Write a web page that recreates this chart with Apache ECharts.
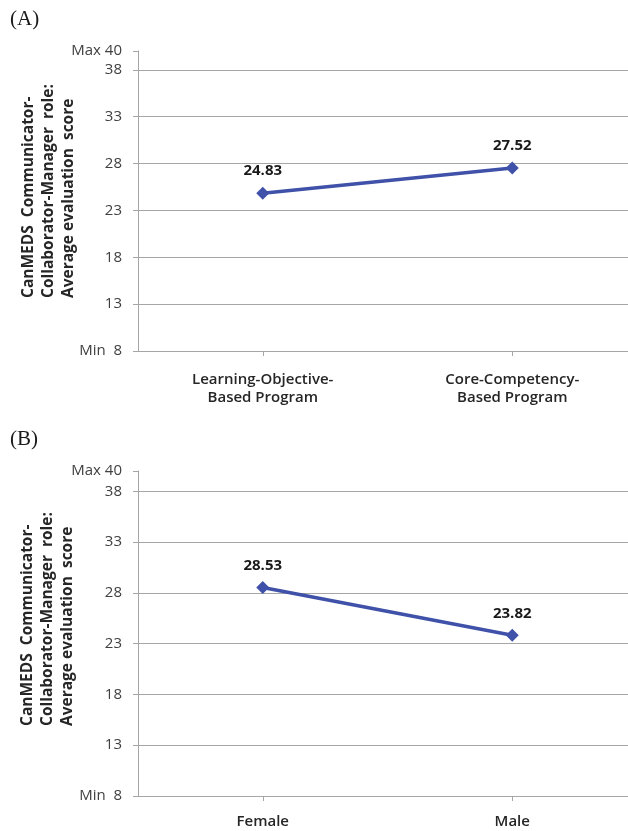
<!DOCTYPE html>
<html><head><meta charset="utf-8">
<script src="https://cdn.jsdelivr.net/npm/echarts@6/dist/echarts.min.js"></script>
<style>html,body{margin:0;padding:0;background:#fff;overflow:hidden;width:628px;height:831px}#c{width:637px;height:831px}</style>
</head><body><div id="c"></div>
<script>
const catsA = ['Learning-Objective-\nBased Program', 'Core-Competency-\nBased Program'];
const valsA = [24.83, 27.52];
const catsB = ['Female', 'Male'];
const valsB = [28.53, 23.82];
const yName = 'CanMEDS  Communicator-\nCollaborator-Manager  role:\nAverage evaluation  score';
const yMin = 8, yMax = 40, yStep = 5;

const FONT = 'Open Sans';
const chart = echarts.init(document.getElementById('c'));
const lineColor = '#3f51a8';
const gridCol = '#a6a6a6';

function yAxis(gi){
  return {
    gridIndex: gi, type: 'value', min: yMin, max: yMax, interval: yStep,
    axisLine: {show: true, lineStyle: {color: gridCol, width: 1}},
    axisTick: {show: true, length: 5, lineStyle: {color: gridCol}},
    splitLine: {show: true, showMaxLine: false, showMinLine: false, lineStyle: {color: gridCol, width: 1}},
    axisLabel: {margin: 16, color: '#404040', fontFamily: FONT, fontSize: 15,
      formatter: v => v === yMax ? 'Max ' + v : (v === yMin ? 'Min  ' + v : String(v))}
  };
}
function xAxis(gi, cats, margin){
  return {
    gridIndex: gi, type: 'category', data: cats, boundaryGap: true,
    axisLine: {show: true, lineStyle: {color: gridCol, width: 1}},
    axisTick: {show: true, alignWithLabel: true, length: 5, lineStyle: {color: gridCol}},
    axisLabel: {margin: margin, color: '#262626', fontFamily: FONT, fontSize: 15, fontWeight: 600, lineHeight: 18, interval: 0}
  };
}
function series(gi, vals){
  return {
    type: 'line', xAxisIndex: gi, yAxisIndex: gi, data: vals,
    symbol: 'diamond', symbolSize: 13,
    lineStyle: {color: lineColor, width: 3.5},
    itemStyle: {color: lineColor},
    label: {show: true, position: 'top', distance: 8, color: '#1a1a1a', fontFamily: FONT, fontWeight: 'bold', fontSize: 15,
      formatter: p => p.value.toFixed(2)},
    animation: false
  };
}
function nameText(x, y){
  return {type: 'text', x: x, y: y, rotation: Math.PI / 2,
    style: {text: yName, align: 'left', verticalAlign: 'middle', fontFamily: FONT, fontWeight: 'bold',
      fontSize: 15.5, lineHeight: 20, fill: '#262626'}};
}

chart.setOption({
  animation: false,
  grid: [
    {left: 138, top: 51, right: 0, height: 300},
    {left: 138, top: 471, right: 0, height: 329}
  ],
  xAxis: [xAxis(0, catsA, 20), xAxis(1, catsB, 17)],
  yAxis: [yAxis(0), yAxis(1)],
  series: [series(0, valsA), series(1, valsB)],
  graphic: [
    {type: 'text', left: 10, top: 9, style: {text: '(A)', fontFamily: 'Liberation Serif', fontSize: 21, fill: '#1a1a1a'}},
    {type: 'text', left: 10, top: 429, style: {text: '(B)', fontFamily: 'Liberation Serif', fontSize: 21, fill: '#1a1a1a'}},
    nameText(49, 298),
    nameText(48, 726)
  ]
});
</script></body></html>
